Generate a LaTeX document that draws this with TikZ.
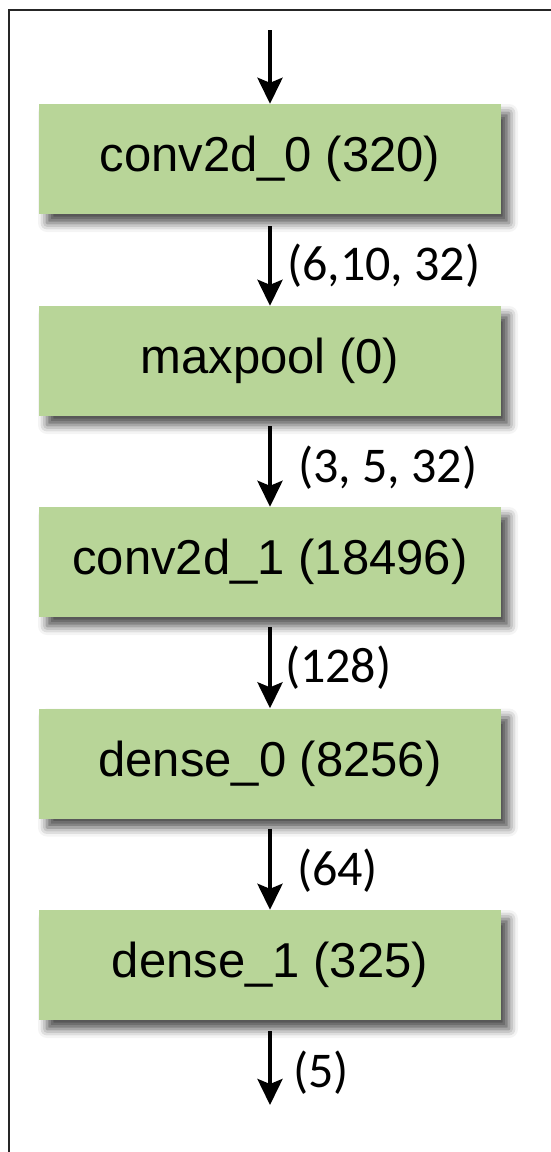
\documentclass[tikz,border=0pt]{standalone}
\usepackage{fontspec}
\setmainfont{Liberation Sans}
\newfontfamily\lblfont{Carlito}
\usetikzlibrary{arrows.meta,shadows.blur}
\definecolor{layergreen}{RGB}{184,213,152}

\begin{document}
\begin{tikzpicture}[x=1pt,y=-1pt,
  layer/.style={fill=layergreen,minimum width=462pt,minimum height=110pt,inner sep=0pt,
    font=\fontsize{49}{56}\selectfont,
    blur shadow={shadow xshift=8pt,shadow yshift=-9pt,shadow blur radius=9pt,shadow opacity=70}},
  flow/.style={line width=4pt,-{Stealth[length=26pt,width=25pt,inset=5pt]}},
  lbl/.style={inner sep=0pt,font=\lblfont\fontsize{50}{56}\selectfont}]
\useasboundingbox (0,0) rectangle (550,1152);
\draw[line width=2pt,black!85] (8.5,1160)--(8.5,9.5)--(560,9.5);
% layers
\node[layer] (c0) at (270,159)   {conv2d\_0 (320)};
\node[layer] (mp) at (270,361)   {maxpool (0)};
\node[layer] (c1) at (270,562)   {conv2d\_1 (18496)};
\node[layer] (d0) at (270,763.5) {dense\_0 (8256)};
\node[layer] (d1) at (270,965)   {dense\_1 (325)};
\coordinate (in) at (270,30);
\coordinate (out) at (270,1105);
% connectors
\draw[flow] (in)--(c0);
\draw[flow,shorten <=12pt] (c0)--node[lbl,right=15pt,yshift=-6pt] {(6,10, 32)} (mp);
\draw[flow,shorten <=10pt] (mp)--node[lbl,right=26pt,yshift=-6pt] {(3, 5, 32)} (c1);
\draw[flow,shorten <=10pt] (c1)--node[lbl,right=13pt,yshift=-5pt] {(128)} (d0);
\draw[flow,shorten <=10pt] (d0)--node[lbl,right=25pt,yshift=-6pt] {(64)} (d1);
\draw[flow,shorten <=11pt] (d1)--node[lbl,right=21pt,yshift=-10pt] {(5)} (out);
\end{tikzpicture}
\end{document}
